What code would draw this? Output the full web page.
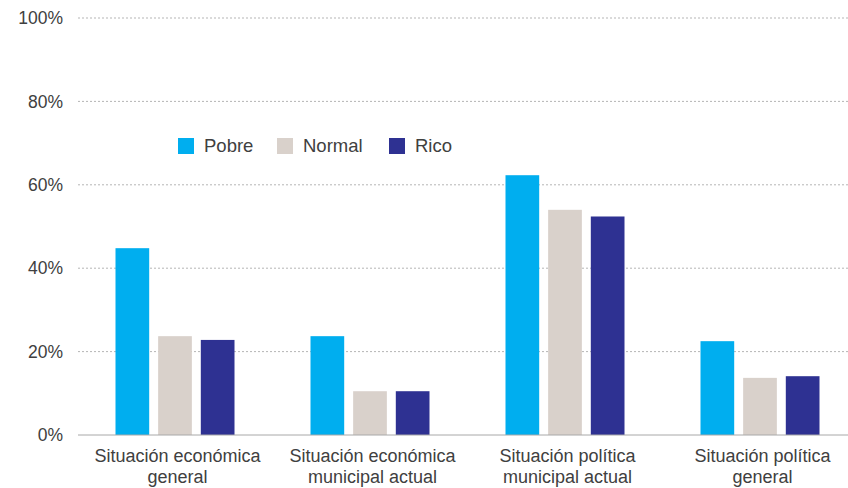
<!DOCTYPE html>
<html>
<head>
<meta charset="utf-8">
<script src="https://cdn.jsdelivr.net/npm/d3@7"></script>
<style>
  body { margin: 0; background: #fff; }
  text { font-family: "Liberation Sans", Arial, sans-serif; fill: #404040; }
</style>
</head>
<body>
<script>
const width = 848;
const height = 488;

// Chart data.
const categories = [
  ['Situación económica', 'general'],
  ['Situación económica', 'municipal actual'],
  ['Situación política', 'municipal actual'],
  ['Situación política', 'general']
];
const seriesNames = ['Pobre', 'Normal', 'Rico'];
const pobre = [44.8, 23.7, 62.3, 22.5];
const normal = [23.7, 10.5, 54.0, 13.7];
const rico = [22.8, 10.5, 52.4, 14.1];
const yTicks = [0, 20, 40, 60, 80, 100];
const colors = ['#00aeef', '#d9d1cb', '#2e3192'];

const series = [pobre, normal, rico];

let svg = d3
  .select('body')
  .append('svg')
  .attr('width', width)
  .attr('height', height);

let margin = { top: 18, right: 0, bottom: 53, left: 78 };

let xScale = d3
  .scaleBand()
  .domain(d3.range(categories.length))
  .range([80, 860]);

let inner = d3
  .scaleBand()
  .domain(d3.range(seriesNames.length))
  .range([xScale.bandwidth() / 2 - 62, xScale.bandwidth() / 2 + 57])
  .paddingInner(0.21);

let yScale = d3
  .scaleLinear()
  .domain([0, 100])
  .range([height - margin.bottom, margin.top]);

// Gridlines and tick labels.
let grid = svg.append('g');
grid
  .selectAll('line')
  .data(yTicks.filter((t) => t > 0))
  .join('line')
  .attr('x1', margin.left)
  .attr('x2', width)
  .attr('y1', (d) => yScale(d))
  .attr('y2', (d) => yScale(d))
  .attr('stroke', '#b5b5b5')
  .attr('stroke-dasharray', '2,2');

grid
  .selectAll('text')
  .data(yTicks)
  .join('text')
  .attr('x', 63)
  .attr('y', (d) => yScale(d))
  .attr('dy', '0.35em')
  .attr('text-anchor', 'end')
  .style('font-size', '17.5px')
  .text((d) => d + '%');

// Bars.
let groups = svg
  .selectAll('g.group')
  .data(categories)
  .join('g')
  .attr('class', 'group')
  .attr('transform', (d, i) => `translate(${xScale(i)},0)`);

groups
  .selectAll('rect')
  .data((d, i) => series.map((s, j) => ({ j, v: s[i] })))
  .join('rect')
  .attr('x', (d) => inner(d.j))
  .attr('width', inner.bandwidth())
  .attr('y', (d) => yScale(d.v))
  .attr('height', (d) => yScale(0) - yScale(d.v))
  .attr('fill', (d) => colors[d.j]);

// Baseline.
svg
  .append('line')
  .attr('x1', margin.left)
  .attr('x2', width)
  .attr('y1', yScale(0))
  .attr('y2', yScale(0))
  .attr('stroke', '#a8a8a8')
  .attr('stroke-width', 1);

// Category labels.
groups
  .append('text')
  .attr('x', xScale.bandwidth() / 2)
  .attr('y', yScale(0) + 27)
  .attr('text-anchor', 'middle')
  .style('font-size', '18px')
  .selectAll('tspan')
  .data((d) => d)
  .join('tspan')
  .attr('x', xScale.bandwidth() / 2)
  .attr('dy', (d, i) => (i === 0 ? 0 : 21))
  .text((d) => d);

// Legend.
const legendX = [178, 277, 389];
let legend = svg
  .selectAll('g.legend')
  .data(seriesNames)
  .join('g')
  .attr('class', 'legend')
  .attr('transform', (d, i) => `translate(${legendX[i]},138)`);

legend
  .append('rect')
  .attr('width', 16)
  .attr('height', 16)
  .attr('fill', (d, i) => colors[i]);

legend
  .append('text')
  .attr('x', 26)
  .attr('y', 8)
  .attr('dy', '0.35em')
  .style('font-size', '18.5px')
  .text((d) => d);
</script>
</body>
</html>
